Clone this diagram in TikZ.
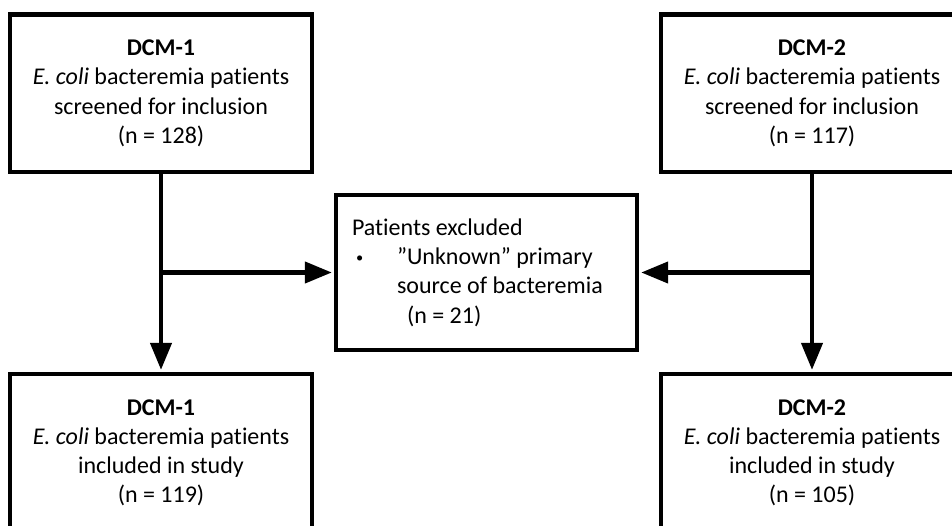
\documentclass[tikz,border=0pt]{standalone}
\usepackage{fontspec}
\setmainfont[Ligatures={NoCommon}]{Carlito}
\usetikzlibrary{arrows.meta}
\tikzset{
  txt/.style={font=\fontsize{24pt}{29.3pt}\selectfont},
  box/.style={draw=black, line width=4.4pt, minimum width=301.5pt, minimum height=157.5pt, inner sep=0pt, align=center, txt},
  conn/.style={line width=4.3pt, draw=black},
  arr/.style={conn, -{Triangle[length=27pt, width=21pt]}}
}
\newcommand{\smallbul}{\raisebox{2pt}{\scalebox{0.6}{•}}}
\begin{document}
\begin{tikzpicture}[x=1pt, y=-1pt]
\useasboundingbox (0,0) rectangle (952,526);
\clip (0,0) rectangle (952,526);
\node[box] (tl) at (161,93.2) {\textbf{DCM-1}\\\textit{E. coli} bacteremia patients\\screened for inclusion\\(n = 128)};
\node[box] (tr) at (812,93.2) {\textbf{DCM-2}\\\textit{E. coli} bacteremia patients\\screened for inclusion\\(n = 117)};
\node[box, minimum width=301pt, minimum height=155pt] (mid) at (486.5,272.5) {};
\node[text width=269pt, align=flush left, inner sep=0pt, txt] (midtext) at (mid.center) {Patients excluded\\\makebox[45pt][l]{\hspace{4pt}\smallbul}”Unknown” primary\\\hspace*{45pt}source of bacteremia\\\hspace*{55pt}(n = 21)};
\node[box] (bl) at (161,452.8) {\textbf{DCM-1}\\\textit{E. coli} bacteremia patients\\included in study\\(n = 119)};
\node[box] (br) at (812,452.8) {\textbf{DCM-2}\\\textit{E. coli} bacteremia patients\\included in study\\(n = 105)};
\coordinate (jl) at (tl.south |- mid.west);
\coordinate (jr) at (tr.south |- mid.east);
\draw[arr, shorten >=2pt] (tl.south) -- (bl.north);
\draw[arr, shorten >=2pt] (tr.south) -- (br.north);
\draw[arr, shorten >=2pt] (jl) -- (mid.west);
\draw[arr, shorten >=2pt] (jr) -- (mid.east);
\end{tikzpicture}
\end{document}
